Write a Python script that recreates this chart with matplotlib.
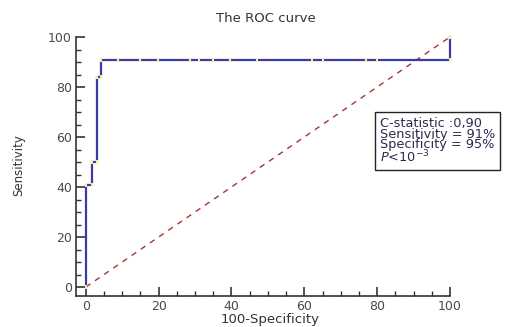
import matplotlib
matplotlib.use("Agg")
import matplotlib.pyplot as plt
from matplotlib.ticker import MultipleLocator

plt.rcParams['font.family'] = ['DejaVu Sans']

fpr = [0, 0, 1.8, 1.8, 3, 3, 4.3, 4.3, 8.8, 14.8, 19.8, 28.6, 31, 35, 39.6, 47, 62, 65, 77, 80, 100, 100]
tpr = [0, 41, 41, 50, 50, 84, 84, 91, 91, 91, 91, 91, 91, 91, 91, 91, 91, 91, 91, 91, 91, 100]
diag_x = [0, 100]
diag_y = [0, 100]
title = "The ROC curve"
xlabel = "100-Specificity"
ylabel = "Sensitivity"
stats_lines = ["C-statistic :0,90", "Sensitivity = 91%", "Specificity = 95%", r"$\it{P}$<10$^{-3}$"]

W, H = 512, 327
fig = plt.figure(figsize=(W/100, H/100), dpi=100)
ax = fig.add_axes([76/W, (H-296)/H, (450-76)/W, (296-37)/H])
ax.set_xlim(-2.7, 100)
ax.set_ylim(-3.6, 100)

ax.plot(diag_x, diag_y, color='#a83232', lw=1.0, ls=(0, (4, 4)), clip_on=False)
ax.plot(fpr, tpr, color='#3a3aa8', lw=1.6, clip_on=False, zorder=3)
ax.plot(fpr, tpr, ls='none', marker='|', color='#f5f0a0', ms=3, mew=1.5, clip_on=False, zorder=4)

for s in ['top', 'right']:
    ax.spines[s].set_visible(False)
for s in ['left', 'bottom']:
    ax.spines[s].set_linewidth(1.2)
    ax.spines[s].set_color('#333333')

ax.xaxis.set_minor_locator(MultipleLocator(5))
ax.yaxis.set_minor_locator(MultipleLocator(5))
ax.set_xticks([0, 20, 40, 60, 80, 100])
ax.set_yticks([0, 20, 40, 60, 80, 100])
ax.tick_params(which='major', direction='in', length=6.5, width=1.2, color='#333333',
               labelsize=9, labelcolor='#4a4a4a', pad=3)
ax.tick_params(which='minor', direction='in', length=3.5, width=1.0, color='#333333')

fig.text(266/W, 1-18/H, title, ha='center', va='center', fontsize=9.5, color='#333333')
fig.text(270/W, 1-320/H, xlabel, ha='center', va='center', fontsize=9.5, color='#333333')
fig.text(19/W, 1-165/H, ylabel, ha='center', va='center', fontsize=8.5, color='#333333', rotation=90)

fig.text(380/W, 1-141/H, "\n".join(stats_lines), ha='left', va='center', fontsize=9.3,
         color='#2a2a50', linespacing=0.78,
         bbox=dict(boxstyle='square,pad=0.35', facecolor='white', edgecolor='#222222', lw=1.0))

fig.savefig("out.png", dpi=100)
